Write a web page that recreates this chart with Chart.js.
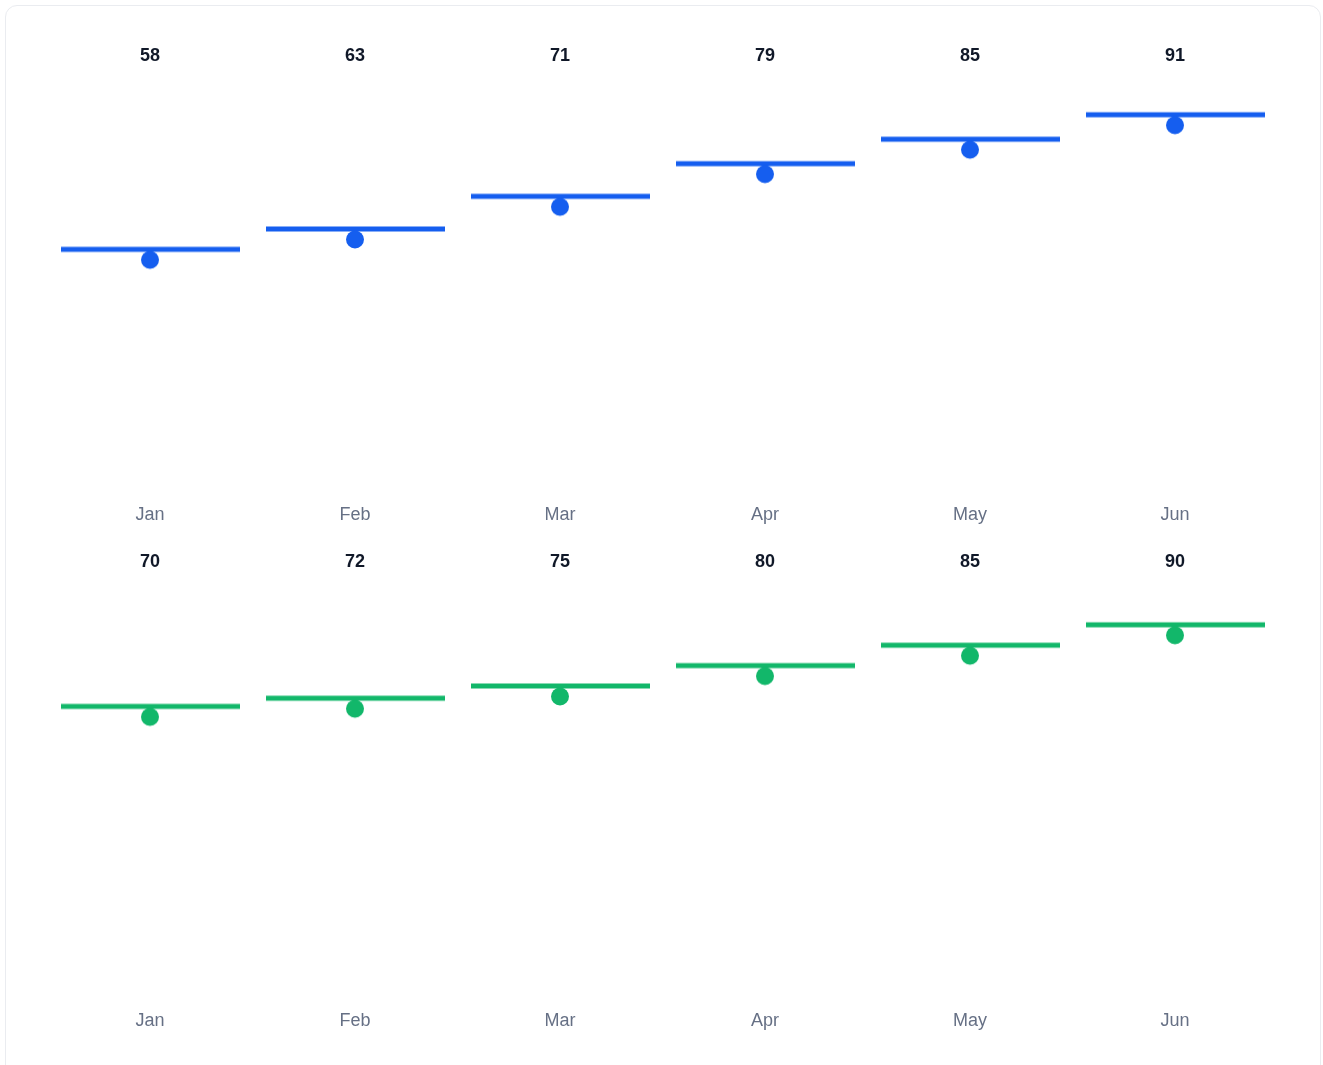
<!DOCTYPE html>
<html>
<head>
<meta charset="utf-8">
<script src="https://cdn.jsdelivr.net/npm/chart.js@4.4.1/dist/chart.umd.min.js"></script>
<style>
  html, body { margin: 0; padding: 0; background: #fff; }
  .card {
    position: absolute; left: 5px; top: 5px;
    width: 1316px; height: 1100px;
    box-sizing: border-box;
    border: 1px solid #EAECF0; border-radius: 12px;
    padding: 24px;
    background: #fff;
  }
  .panel { position: relative; width: 1266px; height: 506px; }
</style>
</head>
<body>
<div class="card">
  <div class="panel"><canvas id="chartTop"></canvas></div>
  <div class="panel"><canvas id="chartBottom"></canvas></div>
</div>
<script>
// data
const months = ["Jan", "Feb", "Mar", "Apr", "May", "Jun"];
const blueValues = [58, 63, 71, 79, 85, 91];
const greenValues = [70, 72, 75, 80, 85, 90];
const yTicks = { min: 0, max: 100 };

const BLUE = "#155EEF";
const GREEN = "#12B76A";
const FONT = "'Liberation Sans', Arial, Helvetica, sans-serif";

// marker: flat bar at the value with a dot hanging just under it
function makeMarker(color) {
  const c = document.createElement("canvas");
  c.width = 180;
  c.height = 42;
  const ctx = c.getContext("2d");
  ctx.fillStyle = color;
  ctx.fillRect(1, 18.5, 179, 5);
  ctx.beginPath();
  ctx.arc(90, 31.5, 9, 0, Math.PI * 2);
  ctx.fill();
  return c;
}

// value labels above the plot area
const topLabels = {
  id: "topLabels",
  afterDatasetsDraw(chart) {
    const { ctx, chartArea } = chart;
    const meta = chart.getDatasetMeta(0);
    const values = chart.data.datasets[0].data;
    ctx.save();
    ctx.font = "bold 18px " + FONT;
    ctx.fillStyle = "#101828";
    ctx.textAlign = "center";
    ctx.textBaseline = "middle";
    meta.data.forEach((pt, i) => {
      ctx.fillText(String(values[i]), pt.x, chartArea.top - 22);
    });
    ctx.restore();
  },
};

function createChart(id, values, color) {
  return new Chart(document.getElementById(id), {
    type: "line",
    data: {
      labels: months,
      datasets: [
        {
          data: values,
          showLine: false,
          pointStyle: makeMarker(color),
          pointRadius: 10,
          pointHoverRadius: 10,
        },
      ],
    },
    options: {
      responsive: true,
      maintainAspectRatio: false,
      animation: false,
      events: [],
      layout: { padding: { top: 48, left: 17.5, right: 18.5, bottom: 0 } },
      plugins: { legend: { display: false }, tooltip: { enabled: false } },
      scales: {
        x: {
          offset: true,
          border: { display: false },
          grid: { display: false, drawTicks: false },
          ticks: { color: "#667085", font: { family: FONT, size: 18 }, padding: 18 },
          afterFit(scale) { scale.height = 50; },
        },
        y: {
          display: false,
          min: yTicks.min,
          max: yTicks.max,
        },
      },
    },
    plugins: [topLabels],
  });
}

createChart("chartTop", blueValues, BLUE);
createChart("chartBottom", greenValues, GREEN);
</script>
</body>
</html>
